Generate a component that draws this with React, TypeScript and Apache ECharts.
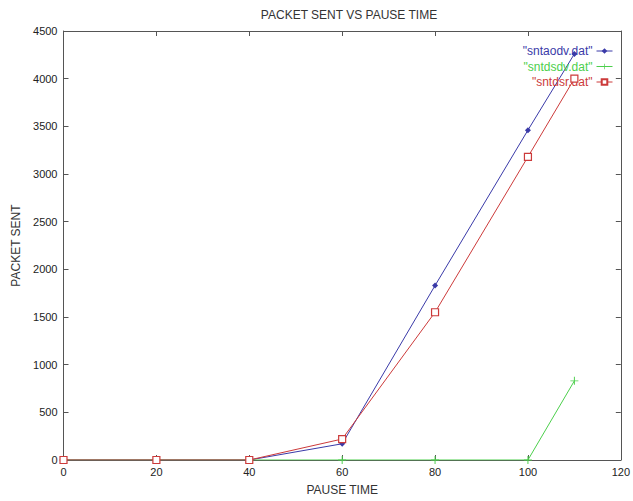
import React, { useEffect, useRef } from "react";
import * as echarts from "echarts";

const pauseTimes = [0, 20, 40, 60, 80, 100, 110];
const aodvSent = [0, 0, 0, 170, 1830, 3460, 4260];
const dsdvSent = [0, 0, 0, 0, 0, 0, 830];
const dsrSent = [0, 0, 0, 220, 1550, 3180, 4000];
const seriesNames = ['"sntaodv.dat"', '"sntdsdv.dat"', '"sntdsr.dat"'];
const seriesColors = ["#3a3aa8", "#4ccf4c", "#cc3a3a"];

const FONT = "Liberation Sans, Arial, sans-serif";
const plusPath = "path://M0,4.4L10,4.4L10,5.6L0,5.6Z M4.4,0L5.6,0L5.6,10L4.4,10Z";

export default function App() {
  const ref = useRef<HTMLDivElement>(null);
  useEffect(() => {
    if (!ref.current) return;
    const chart = echarts.init(ref.current, undefined, { renderer: "svg" });
    const pairs = (ys: number[]) => pauseTimes.map((x, i) => [x, ys[i]]);
    const axisLine = { show: true, onZero: false, lineStyle: { color: "#555", width: 1 } };
    const tick = { show: true, inside: true, length: 5, lineStyle: { color: "#555" } };
    const legendBase = {
      orient: "vertical" as const,
      align: "right" as const,
      itemWidth: 16,
      itemHeight: 7,
      itemGap: 4,
      lineStyle: { width: 1 },
      textStyle: { fontFamily: FONT, fontSize: 12, padding: [0, -1, 0, 0] },
    };
    const plain = (v: number) => String(v);
    chart.setOption({
      animation: false,
      backgroundColor: "#fff",
      title: {
        text: "PACKET SENT VS PAUSE TIME",
        left: 344,
        textAlign: "center",
        top: 4,
        textStyle: { fontFamily: FONT, fontSize: 12, fontWeight: "normal", color: "#333" },
      },
      legend: [0, 1, 2].map((i) => ({
        ...legendBase,
        data: [seriesNames[i]],
        right: 15,
        top: 40 + i * 15.5,
        textStyle: { ...legendBase.textStyle, color: seriesColors[i] },
      })),
      grid: { left: 63.5, right: 8, top: 31, bottom: 40 },
      xAxis: [
        {
          type: "value",
          min: 0,
          max: 120,
          interval: 20,
          name: "PAUSE TIME",
          nameLocation: "middle",
          nameGap: 24,
          nameTextStyle: { fontFamily: FONT, fontSize: 12, color: "#333" },
          axisLine,
          axisTick: tick,
          splitLine: { show: false },
          axisLabel: { fontFamily: FONT, fontSize: 11, color: "#222", margin: 6, formatter: plain },
        },
        {
          type: "value",
          position: "top",
          min: 0,
          max: 120,
          interval: 20,
          axisLine,
          axisTick: tick,
          splitLine: { show: false },
          axisLabel: { show: false },
        },
      ],
      yAxis: [
        {
          type: "value",
          min: 0,
          max: 4500,
          interval: 500,
          name: "PACKET SENT",
          nameLocation: "middle",
          nameGap: 41,
          nameTextStyle: { fontFamily: FONT, fontSize: 12, color: "#333" },
          axisLine,
          axisTick: tick,
          splitLine: { show: false },
          axisLabel: { fontFamily: FONT, fontSize: 11, color: "#222", margin: 6, formatter: plain },
        },
        {
          type: "value",
          position: "right",
          min: 0,
          max: 4500,
          interval: 500,
          axisLine,
          axisTick: tick,
          splitLine: { show: false },
          axisLabel: { show: false },
        },
      ],
      series: [
        {
          name: seriesNames[0],
          type: "line",
          data: pairs(aodvSent),
          color: seriesColors[0],
          lineStyle: { width: 1, color: seriesColors[0] },
          symbol: "diamond",
          symbolSize: 6,
          itemStyle: { color: seriesColors[0] },
          z: 2,
        },
        {
          name: seriesNames[1],
          type: "line",
          data: pairs(dsdvSent),
          color: seriesColors[1],
          lineStyle: { width: 1, color: seriesColors[1] },
          symbol: plusPath,
          symbolSize: 8,
          itemStyle: { color: seriesColors[1] },
          z: 3,
        },
        {
          name: seriesNames[2],
          type: "line",
          data: pairs(dsrSent),
          color: seriesColors[2],
          lineStyle: { width: 1, color: seriesColors[2] },
          symbol: "rect",
          symbolSize: 7,
          itemStyle: { color: "#fff", borderColor: seriesColors[2], borderWidth: 1.2 },
          z: 4,
        },
      ],
    });
    return () => chart.dispose();
  }, []);
  return <div ref={ref} style={{ width: 633, height: 501, position: "absolute", left: 0, top: 0 }} />;
}
